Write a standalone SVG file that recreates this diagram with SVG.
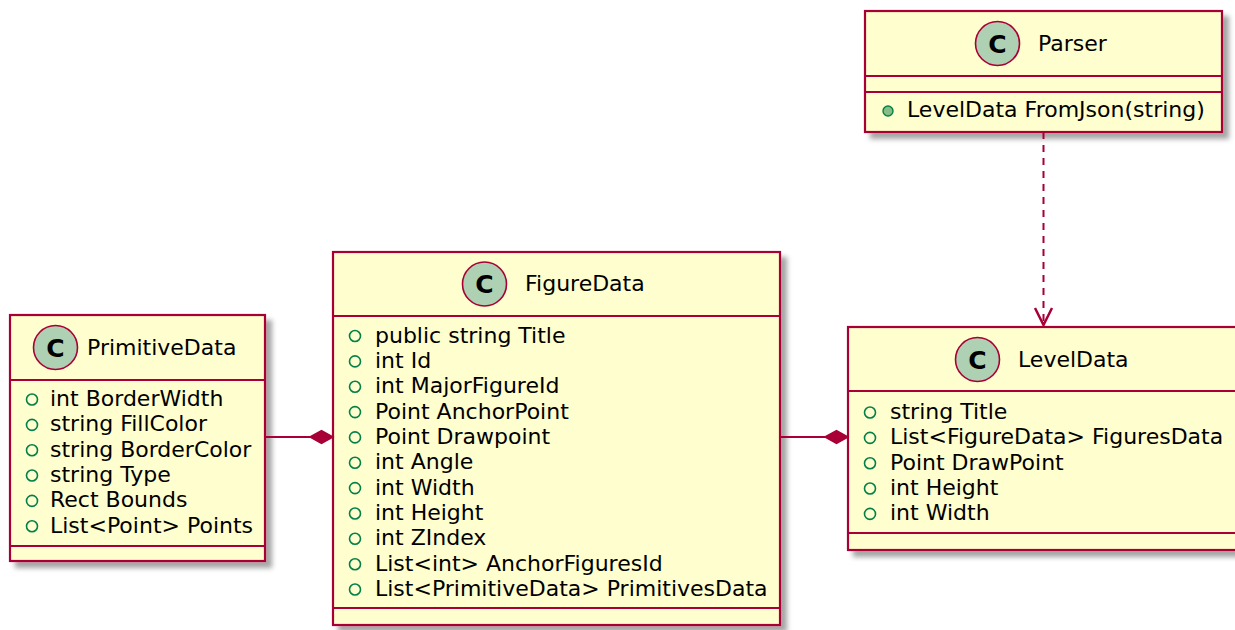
<svg xmlns="http://www.w3.org/2000/svg" width="1235" height="630" viewBox="0 0 1235 630">
  <defs>
    <filter id="shadow" x="-10%" y="-10%" width="130%" height="130%">
      <feGaussianBlur in="SourceAlpha" stdDeviation="2.5"/>
      <feOffset dx="6" dy="6" result="blur"/>
      <feFlood flood-color="#000000" flood-opacity="0.35"/>
      <feComposite in2="blur" operator="in"/>
      <feMerge>
        <feMergeNode/>
        <feMergeNode in="SourceGraphic"/>
      </feMerge>
    </filter>
  </defs>
  <style>
    .box { fill: #FEFECE; stroke: #A80036; stroke-width: 2.2; }
    .sep { stroke: #A80036; stroke-width: 2.2; }
    .badge { fill: #ADD1B2; stroke: #A80036; stroke-width: 1.6; }
    .badge-c { font-family: "DejaVu Sans", sans-serif; font-size: 25px; font-weight: bold; fill: #000; text-anchor: middle; }
    .title { font-family: "DejaVu Sans", sans-serif; font-size: 22px; fill: #000; }
    .member { font-family: "DejaVu Sans", sans-serif; font-size: 22px; fill: #000; }
    .field { fill: none; stroke: #038048; stroke-width: 1.6; }
    .method { fill: #84BE84; stroke: #038048; stroke-width: 1.4; }
    .link { stroke: #A80036; stroke-width: 2; fill: none; }
    .dashed { stroke-dasharray: 7 6; }
    .head { fill: none; stroke: #A80036; stroke-width: 2.5; stroke-linejoin: miter; }
    .diamond { fill: #A80036; stroke: #A80036; stroke-width: 1.5; }
  </style>

  <rect width="1235" height="630" fill="#FFFFFF"/>

  <!-- Parser -->
  <g id="Parser">
    <g filter="url(#shadow)">
      <rect class="box" x="865" y="11" width="357" height="121"/>
    </g>
    <line class="sep" x1="865" y1="76" x2="1222" y2="76"/>
    <line class="sep" x1="865" y1="92" x2="1222" y2="92"/>
    <circle class="badge" cx="997.5" cy="43.5" r="22"/>
    <text class="badge-c" x="997.5" y="52.5">C</text>
    <text class="title" x="1038" y="50.5">Parser</text>
    <circle class="method" cx="888" cy="111" r="5"/>
    <text class="member" x="907" y="117">LevelData FromJson(string)</text>
  </g>

  <!-- PrimitiveData -->
  <g id="PrimitiveData">
    <g filter="url(#shadow)">
      <rect class="box" x="10" y="315" width="255" height="246"/>
    </g>
    <line class="sep" x1="10" y1="380" x2="265" y2="380"/>
    <line class="sep" x1="10" y1="546" x2="265" y2="546"/>
    <circle class="badge" cx="55.5" cy="347.5" r="22"/>
    <text class="badge-c" x="55.5" y="356.5">C</text>
    <text class="title" x="87" y="354.5">PrimitiveData</text>
    <g>
      <circle class="field" cx="32" cy="399.5" r="5.5"/>
      <text class="member" x="50" y="406">int BorderWidth</text>
      <circle class="field" cx="32" cy="424.9" r="5.5"/>
      <text class="member" x="50" y="431.4">string FillColor</text>
      <circle class="field" cx="32" cy="450.2" r="5.5"/>
      <text class="member" x="50" y="456.7">string BorderColor</text>
      <circle class="field" cx="32" cy="475.5" r="5.5"/>
      <text class="member" x="50" y="482">string Type</text>
      <circle class="field" cx="32" cy="500.9" r="5.5"/>
      <text class="member" x="50" y="507.4">Rect Bounds</text>
      <circle class="field" cx="32" cy="526.2" r="5.5"/>
      <text class="member" x="50" y="532.7">List&lt;Point&gt; Points</text>
    </g>
  </g>

  <!-- FigureData -->
  <g id="FigureData">
    <g filter="url(#shadow)">
      <rect class="box" x="333" y="252" width="447" height="373"/>
    </g>
    <line class="sep" x1="333" y1="316" x2="780" y2="316"/>
    <line class="sep" x1="333" y1="608" x2="780" y2="608"/>
    <circle class="badge" cx="484.5" cy="284" r="22"/>
    <text class="badge-c" x="484.5" y="293">C</text>
    <text class="title" x="525" y="290.5">FigureData</text>
    <g>
      <circle class="field" cx="355" cy="336" r="5.5"/>
      <text class="member" x="375" y="342.5">public string Title</text>
      <circle class="field" cx="355" cy="361.4" r="5.5"/>
      <text class="member" x="375" y="367.9">int Id</text>
      <circle class="field" cx="355" cy="386.7" r="5.5"/>
      <text class="member" x="375" y="393.2">int MajorFigureId</text>
      <circle class="field" cx="355" cy="412.1" r="5.5"/>
      <text class="member" x="375" y="418.6">Point AnchorPoint</text>
      <circle class="field" cx="355" cy="437.4" r="5.5"/>
      <text class="member" x="375" y="443.9">Point Drawpoint</text>
      <circle class="field" cx="355" cy="462.8" r="5.5"/>
      <text class="member" x="375" y="469.3">int Angle</text>
      <circle class="field" cx="355" cy="488.1" r="5.5"/>
      <text class="member" x="375" y="494.6">int Width</text>
      <circle class="field" cx="355" cy="513.5" r="5.5"/>
      <text class="member" x="375" y="520">int Height</text>
      <circle class="field" cx="355" cy="538.8" r="5.5"/>
      <text class="member" x="375" y="545.3">int ZIndex</text>
      <circle class="field" cx="355" cy="564.2" r="5.5"/>
      <text class="member" x="375" y="570.7">List&lt;int&gt; AnchorFiguresId</text>
      <circle class="field" cx="355" cy="589.5" r="5.5"/>
      <text class="member" x="375" y="596">List&lt;PrimitiveData&gt; PrimitivesData</text>
    </g>
  </g>

  <!-- LevelData -->
  <g id="LevelData">
    <g filter="url(#shadow)">
      <rect class="box" x="848" y="327" width="393" height="223"/>
    </g>
    <line class="sep" x1="848" y1="391" x2="1241" y2="391"/>
    <line class="sep" x1="848" y1="533" x2="1241" y2="533"/>
    <circle class="badge" cx="977.5" cy="359.5" r="22"/>
    <text class="badge-c" x="977.5" y="368.5">C</text>
    <text class="title" x="1018" y="366.5">LevelData</text>
    <g>
      <circle class="field" cx="870" cy="412.5" r="5.5"/>
      <text class="member" x="890" y="419">string Title</text>
      <circle class="field" cx="870" cy="437.9" r="5.5"/>
      <text class="member" x="890" y="444.4">List&lt;FigureData&gt; FiguresData</text>
      <circle class="field" cx="870" cy="463.2" r="5.5"/>
      <text class="member" x="890" y="469.7">Point DrawPoint</text>
      <circle class="field" cx="870" cy="488.5" r="5.5"/>
      <text class="member" x="890" y="495">int Height</text>
      <circle class="field" cx="870" cy="513.9" r="5.5"/>
      <text class="member" x="890" y="520.4">int Width</text>
    </g>
  </g>

  <!-- Connectors -->
  <g id="connectors">
    <!-- PrimitiveData composed into FigureData -->
    <line class="link" x1="265" y1="437" x2="311" y2="437"/>
    <polygon class="diamond" points="310,437 321.5,430.5 333,437 321.5,443.5"/>
    <!-- FigureData composed into LevelData -->
    <line class="link" x1="780" y1="437" x2="826" y2="437"/>
    <polygon class="diamond" points="825,437 836.5,430.5 848,437 836.5,443.5"/>
    <!-- Parser depends on LevelData -->
    <line class="link dashed" x1="1043.5" y1="132" x2="1043.5" y2="324"/>
    <polyline class="head" points="1035,308 1043.5,325 1052,308"/>
  </g>
</svg>
